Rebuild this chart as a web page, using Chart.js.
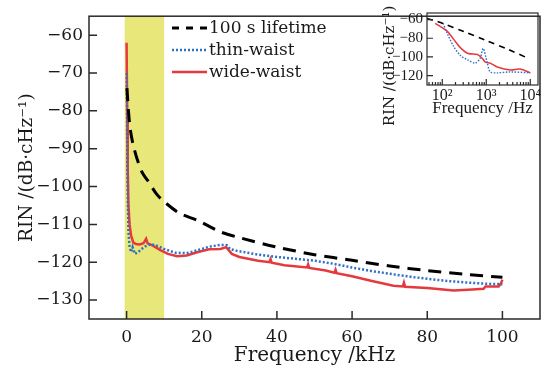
<!DOCTYPE html>
<html>
<head>
<meta charset="utf-8">
<script src="https://cdn.jsdelivr.net/npm/chart.js@4.4.1/dist/chart.umd.min.js"></script>
<style>
  body { margin: 0; background: #fff; }
  #wrap { position: relative; width: 544px; height: 373px; }
  #mainChart { position: absolute; left: 0; top: 0; }
  #insetChart { position: absolute; left: 380px; top: 0; }
</style>
</head>
<body>
<div id="wrap">
  <canvas id="mainChart" width="544" height="373"></canvas>
  <canvas id="insetChart" width="164" height="125"></canvas>
</div>
<script>
// main plot data, frequency in kHz, RIN in dB/Hz
const lifeF   = [0.1, 0.5, 1, 2, 4, 6, 8, 10, 14, 19, 25, 30, 40, 50, 60, 70, 80, 90, 100];
const lifeRIN = [-74, -80, -85, -90, -96, -99, -102, -104, -107, -109, -112, -113.5, -116, -118, -119.5, -121, -122.2, -123.2, -124];

const thinF   = [0.05, 0.1, 0.2, 0.35, 0.5, 0.8, 1.2, 1.6, 2.2, 3, 4, 5, 6.4, 8, 10, 13, 16, 19, 22, 25, 26.7, 27.5, 29.4, 35, 40, 45, 50, 55, 60, 65, 71, 76, 81, 86, 91, 96, 100];
const thinRIN = [-70, -80, -93, -105, -112, -116, -117.3, -116, -117.8, -117.4, -116.5, -115.8, -115.2, -115.6, -116.5, -117.5, -117.6, -116.8, -115.9, -115.4, -115.5, -116.5, -117, -118, -118.6, -119.1, -119.6, -120.4, -121.4, -122.3, -123.2, -123.9, -124.5, -125, -125.4, -125.7, -125.8];

const wideF   = [0, 0.15, 0.3, 0.5, 0.8, 1.2, 1.8, 2.5, 3.5, 4.5, 5.2, 5.6, 7, 9, 11, 13.4, 16, 19, 22, 25, 26.5, 28, 30, 35, 38, 38.3, 38.6, 42, 48, 48.3, 48.6, 53, 55.3, 55.6, 55.9, 60, 65, 71, 73.5, 73.8, 74.1, 80, 87, 92, 95, 95.5, 99, 99.6, 100];
const wideRIN = [-62, -80, -95, -105, -110, -113, -114.8, -115.2, -115.3, -115, -113.8, -115, -115.6, -116.8, -117.8, -118.4, -118.2, -117.3, -116.6, -116.5, -116, -117.8, -118.6, -119.6, -120, -119.2, -120.1, -120.8, -121.4, -120.6, -121.5, -122.2, -122.8, -122, -122.9, -123.7, -124.9, -126.2, -126.4, -125.4, -126.5, -126.8, -127.5, -127.2, -127, -126.4, -126.4, -125.6, -124.6];

const xTicks = [0, 20, 40, 60, 80, 100];
const yTicks = [-60, -70, -80, -90, -100, -110, -120, -130];
const bandFrom = -0.5, bandTo = 10;

// inset data, frequency in Hz
const inLifeF   = [45, 78, 100, 316, 1000, 3162, 9000];
const inLifeRIN = [-59, -62, -64, -73, -82.5, -92, -101.5];
const inThinF   = [105, 129, 178, 257, 389, 562, 724, 851, 1047, 1230, 1778, 3548, 10000];
const inThinRIN = [-64, -74.5, -88, -98.3, -103.5, -106.6, -101.5, -91, -105.6, -116, -117, -116, -117];
const inWideF   = [69, 129, 178, 257, 389, 631, 813, 955, 1230, 1778, 3548, 5888, 10000];
const inWideRIN = [-64, -72.4, -80.7, -90, -96.3, -97.3, -101.5, -105.6, -106.6, -110.8, -114, -113, -117];
const inXMajor = [100, 1000, 10000];
const inXLabels = ['10²', '10³', '10⁴'];
const inYTicks = [-60, -80, -100, -120];

Chart.defaults.font.family = "'DejaVu Serif', serif";
Chart.defaults.color = '#1a1a1a';
const insetFont = "'Liberation Serif', serif";

const pts = (xs, ys) => xs.map((x, i) => ({ x: x, y: ys[i] }));
const minus = v => String(v).replace('-', '\u2212');

const boxAndTicks = {
  id: 'boxAndTicks',
  afterDraw(chart, args, opts) {
    const { ctx, chartArea: a, scales } = chart;
    ctx.save();
    ctx.strokeStyle = '#2a2a2a';
    ctx.lineWidth = opts.width;
    ctx.strokeRect(a.left, a.top, a.right - a.left, a.bottom - a.top);
    ctx.beginPath();
    scales.x.ticks.forEach(t => {
      const px = scales.x.getPixelForValue(t.value);
      let len = opts.len;
      if (opts.logX) {
        const l = Math.log10(t.value);
        if (Math.abs(l - Math.round(l)) > 1e-6) len = opts.minorLen;
      }
      ctx.moveTo(px, a.bottom);
      ctx.lineTo(px, a.bottom - len);
    });
    scales.y.ticks.forEach(t => {
      const py = scales.y.getPixelForValue(t.value);
      ctx.moveTo(a.left, py);
      ctx.lineTo(a.left + opts.len, py);
    });
    ctx.stroke();
    ctx.restore();
  }
};

const bandPlugin = {
  id: 'band',
  beforeDatasetsDraw(chart, args, opts) {
    const { ctx, chartArea: a, scales: { x } } = chart;
    const x0 = x.getPixelForValue(bandFrom), x1 = x.getPixelForValue(bandTo);
    ctx.save();
    ctx.fillStyle = opts.color;
    ctx.fillRect(x0, a.top, x1 - x0, a.bottom - a.top);
    ctx.restore();
  }
};

const legendPlugin = {
  id: 'plainLegend',
  afterDraw(chart, args, opts) {
    const ctx = chart.ctx;
    ctx.save();
    ctx.font = opts.font;
    ctx.textBaseline = 'middle';
    ctx.fillStyle = '#1a1a1a';
    chart.data.datasets.forEach((ds, i) => {
      const y = opts.y + i * opts.dy;
      ctx.strokeStyle = ds.borderColor;
      ctx.lineWidth = ds.borderWidth;
      ctx.setLineDash(ds.legendDash || []);
      ctx.beginPath();
      ctx.moveTo(opts.x0, y);
      ctx.lineTo(opts.x1, y);
      ctx.stroke();
      ctx.setLineDash([]);
      ctx.fillText(ds.label, opts.textX, y + 1);
    });
    ctx.restore();
  }
};

const sideTitle = {
  id: 'sideTitle',
  afterDraw(chart, args, opts) {
    const ctx = chart.ctx;
    ctx.save();
    ctx.translate(opts.x, opts.y);
    ctx.rotate(-Math.PI / 2);
    ctx.font = opts.font;
    ctx.fillStyle = '#1a1a1a';
    ctx.textAlign = 'center';
    ctx.textBaseline = 'middle';
    ctx.fillText(opts.text, 0, 0);
    ctx.restore();
  }
};

new Chart(document.getElementById('mainChart'), {
  type: 'line',
  data: {
    datasets: [
      { label: '100 s lifetime', data: pts(lifeF, lifeRIN), borderColor: '#000', borderWidth: 3,
        borderDash: [13, 8], legendDash: [7, 7], pointRadius: 0, tension: 0.3 },
      { label: 'thin-waist', data: pts(thinF, thinRIN), borderColor: '#2f6fc4', borderWidth: 2.5,
        borderDash: [2, 2], legendDash: [2, 2], pointRadius: 0 },
      { label: 'wide-waist', data: pts(wideF, wideRIN), borderColor: '#e5393d', borderWidth: 2.5,
        pointRadius: 0 }
    ]
  },
  options: {
    responsive: false,
    animation: false,
    layout: { padding: { left: 0, top: 7, right: 4, bottom: 0 } },
    scales: {
      x: {
        type: 'linear', min: -10, max: 110,
        afterBuildTicks: s => { s.ticks = xTicks.map(v => ({ value: v })); },
        afterFit: s => { s.height = 54; },
        grid: { display: false, drawTicks: false },
        border: { display: false },
        ticks: { font: { size: 17 }, padding: 8, maxRotation: 0, autoSkip: false },
        title: { display: true, text: 'Frequency /kHz', font: { size: 20 }, padding: { top: 0, bottom: 5 } }
      },
      y: {
        min: -135, max: -55,
        afterBuildTicks: s => { s.ticks = yTicks.map(v => ({ value: v })); },
        afterFit: s => { s.width = 89; },
        grid: { display: false, drawTicks: false },
        border: { display: false },
        ticks: { font: { size: 17 }, padding: 6, callback: minus },
        title: { display: true, text: 'RIN /(dB·cHz⁻¹)', font: { size: 18.5 }, padding: { top: 16, bottom: 0 } }
      }
    },
    plugins: {
      legend: { display: false },
      tooltip: { enabled: false },
      band: { color: '#e8e87a' },
      boxAndTicks: { width: 1.5, len: 8 },
      plainLegend: { font: "17px 'DejaVu Serif', serif", x0: 172, x1: 207, textX: 209, y: 28, dy: 22 }
    }
  },
  plugins: [bandPlugin, boxAndTicks, legendPlugin]
});

new Chart(document.getElementById('insetChart'), {
  type: 'line',
  data: {
    datasets: [
      { label: 'life', data: pts(inLifeF, inLifeRIN), borderColor: '#000', borderWidth: 1.6,
        borderDash: [6, 5], pointRadius: 0, tension: 0.3 },
      { label: 'thin', data: pts(inThinF, inThinRIN), borderColor: '#2f6fc4', borderWidth: 1.4,
        borderDash: [1.5, 1.5], pointRadius: 0, tension: 0.3 },
      { label: 'wide', data: pts(inWideF, inWideRIN), borderColor: '#e5393d', borderWidth: 1.5,
        pointRadius: 0, tension: 0.3 }
    ]
  },
  options: {
    responsive: false,
    animation: false,
    layout: { padding: { left: 0, top: 11, right: 6, bottom: 0 } },
    scales: {
      x: {
        type: 'logarithmic', min: 45, max: 15000,
        afterBuildTicks: s => {
          const t = [];
          inXMajor.forEach(d => {
            for (let k = 1; k < 10; k++) {
              const v = d / 10 * k;
              if (v >= 45 && v <= 15000) t.push({ value: v });
            }
          });
          t.push({ value: 10000 });
          s.ticks = t;
        },
        afterFit: s => { s.height = 40; },
        grid: { display: false, drawTicks: false },
        border: { display: false },
        ticks: {
          font: { family: insetFont, size: 16 }, padding: 1, maxRotation: 0, autoSkip: false,
          callback: v => { const i = inXMajor.indexOf(v); return i >= 0 ? inXLabels[i] : ''; }
        },
        title: { display: true, text: 'Frequency /Hz', font: { family: insetFont, size: 17 }, padding: { top: 0, bottom: 6 } }
      },
      y: {
        min: -130, max: -53,
        afterBuildTicks: s => { s.ticks = inYTicks.map(v => ({ value: v })); },
        afterFit: s => { s.width = 47; },
        grid: { display: false, drawTicks: false },
        border: { display: false },
        ticks: { font: { family: insetFont, size: 15 }, padding: 4, callback: minus }
      }
    },
    plugins: {
      legend: { display: false },
      tooltip: { enabled: false },
      boxAndTicks: { width: 1.2, len: 6, minorLen: 3, logX: true },
      sideTitle: { text: 'RIN /(dB·cHz⁻¹)', font: "15px 'DejaVu Serif', serif", x: 10, y: 66 }
    }
  },
  plugins: [boxAndTicks, sideTitle]
});
</script>
</body>
</html>
